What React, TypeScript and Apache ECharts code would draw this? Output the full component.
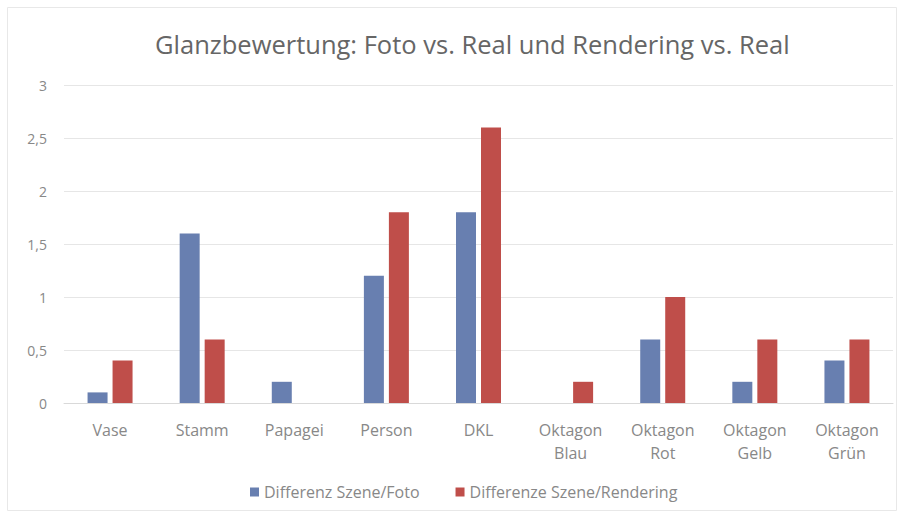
import React, { useEffect, useRef } from "react";
import * as echarts from "echarts";

const categories = ["Vase", "Stamm", "Papagei", "Person", "DKL", "Oktagon\nBlau", "Oktagon\nRot", "Oktagon\nGelb", "Oktagon\nGrün"];
const seriesFoto = [0.1, 1.6, 0.2, 1.2, 1.8, 0, 0.6, 0.2, 0.4];
const seriesRendering = [0.4, 0.6, 0, 1.8, 2.6, 0.2, 1.0, 0.6, 0.6];
const seriesNames = ["Differenz Szene/Foto", "Differenze Szene/Rendering"];
const titleText = "Glanzbewertung: Foto vs. Real und Rendering vs. Real";

export default function App() {
  const ref = useRef<HTMLDivElement>(null);
  useEffect(() => {
    const chart = echarts.init(ref.current!, null, { renderer: "svg" });
    const font = "'Open Sans', 'Noto Sans', sans-serif";
    chart.setOption({
      animation: false,
      backgroundColor: "#fff",
      title: {
        text: titleText,
        left: 150,
        top: 26,
        textStyle: { fontFamily: font, fontSize: 25.5, fontWeight: "normal", color: "#666" },
      },
      graphic: [
        {
          type: "rect",
          shape: { x: 7.5, y: 7.5, width: 889, height: 503 },
          style: { fill: "none", stroke: "#e8e8e8", lineWidth: 1 },
          silent: true,
        },
      ],
      legend: {
        bottom: 12,
        left: 245,
        itemWidth: 9,
        itemHeight: 9,
        itemGap: 36,
        icon: "rect",
        textStyle: { fontFamily: font, fontSize: 16, color: "#888" },
        data: seriesNames,
      },
      grid: { left: 64, right: 12, top: 85, bottom: 114, containLabel: false },
      xAxis: {
        type: "category",
        data: categories,
        axisLine: { lineStyle: { color: "#d9d9d9" } },
        axisTick: { show: false },
        axisLabel: { fontFamily: font, fontSize: 16, color: "#888", margin: 15, lineHeight: 23, interval: 0 },
      },
      yAxis: {
        type: "value",
        min: 0,
        max: 3,
        interval: 0.5,
        axisLine: { show: false },
        axisTick: { show: false },
        splitLine: { lineStyle: { color: "#e6e6e6", width: 1 } },
        axisLabel: {
          fontFamily: font,
          fontSize: 14,
          color: "#888",
          margin: 17,
          formatter: (v: number) => String(v).replace(".", ","),
        },
      },
      series: [
        {
          name: seriesNames[0],
          type: "bar",
          data: seriesFoto,
          barWidth: 20,
          barGap: "25%",
          itemStyle: { color: "#687fb0" },
        },
        {
          name: seriesNames[1],
          type: "bar",
          data: seriesRendering,
          barWidth: 20,
          barGap: "25%",
          itemStyle: { color: "#bf4e4a" },
        },
      ],
    });
    return () => chart.dispose();
  }, []);
  return <div ref={ref} style={{ width: 905, height: 517, position: "absolute", left: 0, top: 0 }} />;
}
